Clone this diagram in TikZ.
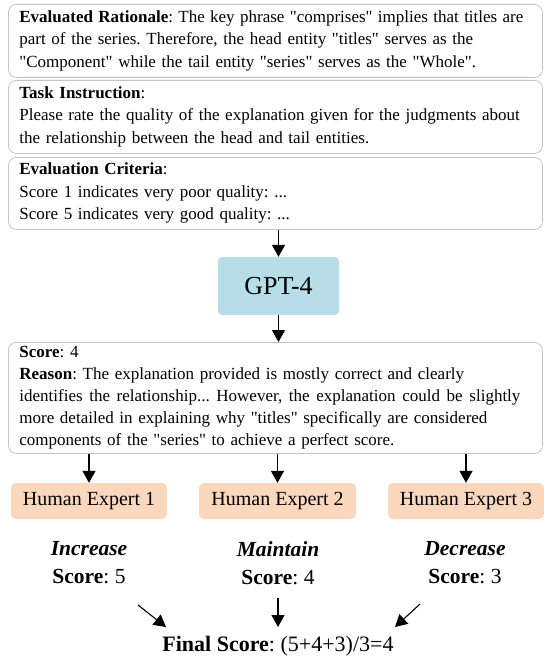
\documentclass[tikz,border=0pt]{standalone}
\usepackage{fontspec}
\setmainfont{Liberation Serif}[Ligatures=TeXOff]
\usetikzlibrary{arrows.meta,calc}
\definecolor{boxgray}{HTML}{C4C4C4}
\definecolor{gptblue}{HTML}{B7DEE8}
\definecolor{peach}{HTML}{FAD7BD}
\newcommand{\spreadline}[2]{\leavevmode\hbox to #1{\spaceskip=0.25em plus 1fil\relax #2}}
\tikzset{
  tbox/.style={draw=boxgray, line width=0.8pt, rounded corners=8pt, fill=white,
    minimum width=534pt, align=left, text width=512pt, inner xsep=11pt, inner ysep=2pt,
    font=\fontsize{17}{22.5}\selectfont, anchor=north west},
  gptbox/.style={fill=gptblue, rounded corners=4pt, minimum width=121pt, minimum height=58pt,
    font=\fontsize{26}{30}\selectfont, inner sep=0pt},
  hebox/.style={fill=peach, rounded corners=5pt, minimum width=156pt, minimum height=36pt,
    font=\fontsize{20}{24}\selectfont, inner sep=0pt},
  res/.style={align=center, font=\fontsize{21.5}{28}\selectfont, inner sep=0pt},
  arr/.style={line width=1.1pt, -{Triangle[length=12pt,width=13pt]}},
}
\begin{document}
\frenchspacing
\begin{tikzpicture}[x=1pt,y=-1pt]
\useasboundingbox (0,0) rectangle (543,658);

\node[tbox, minimum height=73pt] (b1) at (8,4)
 {\spreadline{504pt}{\textbf{Evaluated Rationale}: The key phrase "comprises" implies that titles are}\\
  part of the series. Therefore, the head entity "titles" serves as the\\
  "Component" while the tail entity "series" serves as the "Whole".};
\node[tbox, minimum height=73pt] (b2) at (8,80)
 {\textbf{Task Instruction}:\\
  Please rate the quality of the explanation given for the judgments about\\
  the relationship between the head and tail entities.};
\node[tbox, minimum height=72pt] (b3) at (8,157)
 {\textbf{Evaluation Criteria}:\\
  Score 1 indicates very poor quality: ...\\
  Score 5 indicates very good quality: ...};

\node[gptbox] (gpt) at (278.5,286) {GPT-4};

\node[tbox, minimum height=111pt, font=\fontsize{17}{22}\selectfont] (sc) at (8,342)
 {\textbf{Score}: 4\\
  \textbf{Reason}: The explanation provided is mostly correct and clearly\\
  \spreadline{501pt}{identifies the relationship... However, the explanation could be slightly}\\
  more detailed in explaining why "titles" specifically are considered\\
  components of the "series" to achieve a perfect score.};

\node[hebox] (h1) at (89,501) {Human Expert 1};
\node[hebox, minimum width=157pt] (h2) at (277.5,501) {Human Expert 2};
\node[hebox] (h3) at (466,501) {Human Expert 3};

\node[res] (r1) at (89,563) {\textbf{\textit{Increase}}\\\textbf{Score}: 5};
\node[res] (r2) at (278,563) {\textbf{\textit{Maintain}}\\\textbf{Score}: 4};
\node[res] (r3) at (465,563) {\textbf{\textit{Decrease}}\\\textbf{Score}: 3};

\node[font=\fontsize{22}{24}\selectfont, inner sep=0pt] (fin) at (278,646) {\textbf{Final Score}: (5+4+3)/3=4};

\draw[arr] (b3.south -| gpt.north) -- (gpt.north);
\draw[arr] (gpt.south) -- (sc.north -| gpt.south);
\draw[arr] (sc.south -| h1.north) -- (h1.north);
\draw[arr] (sc.south -| h2.north) -- (h2.north);
\draw[arr] (sc.south -| h3.north) -- (h3.north);

\coordinate (a1s) at (138,605);
\coordinate (a1e) at (166,627);
\coordinate (a3s) at (420,604);
\coordinate (a3e) at (395,627);
\draw[arr] (a1s) -- (a1e);
\draw[arr] (r2.south |- 0,598) coordinate (a2s) -- (a2s |- a1e);
\draw[arr] (a3s) -- (a3e);
\end{tikzpicture}
\end{document}
